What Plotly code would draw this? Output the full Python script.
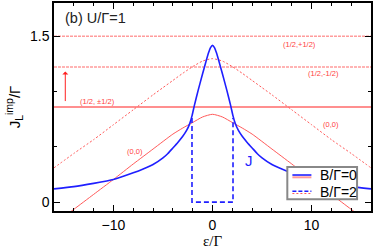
import plotly.graph_objects as go

# ---- data ----
eps_J = [0, 0.2, 0.4, 0.7, 1.0, 1.45, 1.84, 2.07, 2.3, 2.6, 3.0, 3.5, 4.0, 4.5, 5.0, 6.0, 7.0, 8.0, 10.0, 12.0, 14.0, 16.0]
J_B0 = [1.417, 1.397, 1.35, 1.258, 1.16, 1.01, 0.87, 0.78, 0.71, 0.65, 0.595, 0.54, 0.49, 0.44, 0.40, 0.34, 0.30, 0.265, 0.205, 0.17, 0.14, 0.12]
eps_jump = 2.07  # B/Γ=2: J drops to zero for |ε| < eps_jump
J_jump_top = 0.76

eps_E00 = [0, 1, 2, 3, 4, 6, 8, 10, 12, 14, 16]
E00_B0 = [0.794, 0.77, 0.72, 0.67, 0.615, 0.48, 0.345, 0.205, 0.07, -0.065, -0.2]

eps_E00b = [0, 1, 2, 3, 4, 5, 6, 8, 10, 12, 14, 16]
E00_B2 = [1.297, 1.275, 1.225, 1.165, 1.10, 1.035, 0.97, 0.835, 0.70, 0.565, 0.44, 0.31]

doublet_B0 = 0.86
doublet_B2_plus = 1.50
doublet_B2_minus = 1.222

x_range = [-16, 16]
y_range = [-0.08, 1.8]

legend_labels = ["B/Γ=0", "B/Γ=2"]


def sym(xs, ys):
    X = [-x for x in reversed(xs[1:])] + list(xs)
    Y = list(reversed(ys[1:])) + list(ys)
    return X, Y


xJ, yJ = sym(eps_J, J_B0)
xE0, yE0 = sym(eps_E00, E00_B0)
xE2, yE2 = sym(eps_E00b, E00_B2)

# B/Γ=2 current: zero inside |ε| < eps_jump (outside it coincides with B=0)
xJ2 = [-eps_jump, -eps_jump, eps_jump, eps_jump]
yJ2 = [J_jump_top, 0, 0, J_jump_top]

fig = go.Figure()
RED = "#ff2020"
PINK = "#ff9c9c"
LRED = "#ff5a5a"
BLUE = "#1f1fff"

# horizontal doublet levels
for lvl in (doublet_B2_plus, doublet_B2_minus):
    fig.add_trace(go.Scatter(x=x_range, y=[lvl] * 2, mode="lines",
                             line=dict(color=PINK, width=1.6, dash="3px,1px"), showlegend=False))
fig.add_trace(go.Scatter(x=x_range, y=[doublet_B0] * 2, mode="lines",
                         line=dict(color=RED, width=1.2), showlegend=False))
# (0,0) levels
fig.add_trace(go.Scatter(x=xE0, y=yE0, mode="lines", line_shape="spline",
                         line=dict(color=LRED, width=1, smoothing=0.6), showlegend=False))
fig.add_trace(go.Scatter(x=xE2, y=yE2, mode="lines", line_shape="spline",
                         line=dict(color=LRED, width=1, dash="2px,2px", smoothing=0.6), showlegend=False))
# currents
fig.add_trace(go.Scatter(x=xJ, y=yJ, mode="lines", line_shape="spline",
                         line=dict(color=BLUE, width=1.6, smoothing=0.5), name=legend_labels[0], showlegend=False))
fig.add_trace(go.Scatter(x=xJ2, y=yJ2, mode="lines",
                         line=dict(color=BLUE, width=1.6, dash="5px,3px"), name=legend_labels[1], showlegend=False))

lab = dict(color="#ff4040", size=7.5, family="Liberation Sans")
texts = [
    ("(1/2, ±1/2)", -11.6, 0.914),
    ("(1/2,+1/2)", 8.83, 1.423),
    ("(1/2,-1/2)", 11.2, 1.159),
    ("(0,0)", 12.0, 0.70),
    ("(0,0)", -7.8, 0.46),
]
for t, x, y in texts:
    fig.add_annotation(x=x, y=y, text=t, showarrow=False, font=lab)
fig.add_annotation(x=3.7, y=0.375, text="J", showarrow=False,
                   font=dict(color=BLUE, size=15, family="Liberation Sans"))
fig.add_annotation(x=-14.86, y=1.18, ax=-14.86, ay=0.9, axref="x", ayref="y",
                   xref="x", yref="y", text="", showarrow=True,
                   arrowhead=1, arrowsize=1, arrowwidth=1, arrowcolor=RED)
fig.add_annotation(x=0.028, y=0.93, xref="paper", yref="paper", xanchor="left",
                   yanchor="middle", text="(b) U/Γ=1", showarrow=False,
                   font=dict(size=14.5, color="#222", family="Liberation Sans"))

# ---- hand-drawn legend (paper coordinates) ----
lx0, lx1, ly0, ly1 = 0.736, 0.956, 0.056, 0.211
fig.add_shape(type="rect", xref="paper", yref="paper", x0=lx0, x1=lx1, y0=ly0, y1=ly1,
              line=dict(color="#888", width=2), fillcolor="white", layer="above")
row_y = [0.171, 0.093]
sx0, sx1 = 0.752, 0.812
fig.add_shape(type="line", xref="paper", yref="paper", x0=sx0, x1=sx1, y0=row_y[0] - 0.009, y1=row_y[0] - 0.009,
              line=dict(color=PINK, width=2), layer="above")
fig.add_shape(type="line", xref="paper", yref="paper", x0=sx0, x1=sx1, y0=row_y[0] + 0.002, y1=row_y[0] + 0.002,
              line=dict(color=BLUE, width=1.6), layer="above")
fig.add_shape(type="line", xref="paper", yref="paper", x0=sx0, x1=sx1, y0=row_y[1] - 0.009, y1=row_y[1] - 0.009,
              line=dict(color=LRED, width=1, dash="2px,2px"), layer="above")
fig.add_shape(type="line", xref="paper", yref="paper", x0=sx0, x1=sx1, y0=row_y[1] + 0.002, y1=row_y[1] + 0.002,
              line=dict(color=BLUE, width=1.6, dash="4px,2px"), layer="above")
for t, yy in zip(legend_labels, row_y):
    fig.add_annotation(x=0.834, y=yy, xref="paper", yref="paper", xanchor="left", yanchor="middle",
                       text=t, showarrow=False, font=dict(size=14, color="black", family="Liberation Sans"))

axis_common = dict(showgrid=False, zeroline=False, showline=True, linecolor="black",
                   linewidth=1.5, mirror="ticks", ticks="inside", tickcolor="black",
                   tickfont=dict(size=14, family="Liberation Sans", color="black"))
fig.update_xaxes(range=x_range, dtick=10, tick0=0, ticklen=6, tickwidth=1,
                 minor=dict(dtick=2, ticks="inside", ticklen=3.5, tickcolor="black"),
                 title=dict(text="ε/Γ", font=dict(size=15, family="Liberation Serif", color="black"), standoff=4),
                 **axis_common)
fig.update_yaxes(range=y_range, dtick=1.5, tick0=0, ticklen=6, tickwidth=1,
                 minor=dict(dtick=0.5, ticks="inside", ticklen=3.5, tickcolor="black"),
                 title=dict(text="J<sub>L</sub><sup>imp</sup>/Γ", font=dict(size=15, family="Liberation Sans", color="black"), standoff=6),
                 **axis_common)

fig.update_layout(
    width=374, height=249,
    margin=dict(l=54, r=2, t=1, b=38),
    plot_bgcolor="white", paper_bgcolor="white",
    showlegend=False,
)
fig.write_html("out.html", config={"displayModeBar": False},
               post_script="document.body.style.margin='0';")
